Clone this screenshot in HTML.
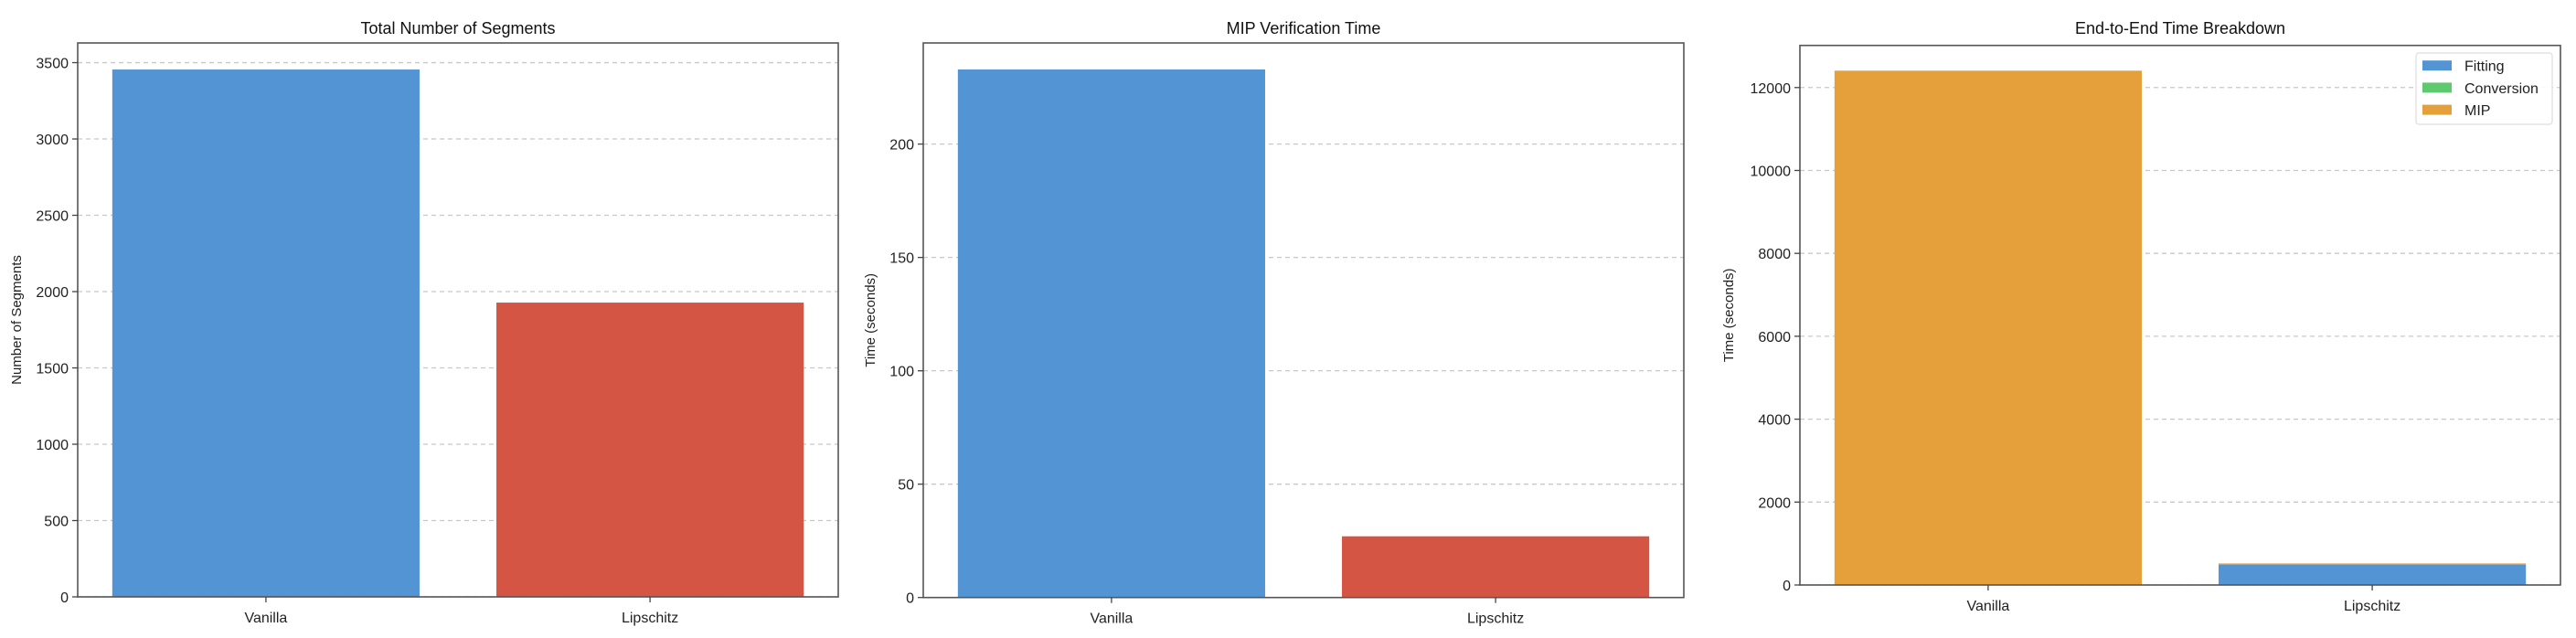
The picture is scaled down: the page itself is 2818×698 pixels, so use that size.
<!DOCTYPE html>
<html><head><meta charset="utf-8">
<style>
html,body{margin:0;padding:0;background:#fff;}
svg{display:block;font-family:"Liberation Sans","DejaVu Sans",sans-serif;}
</style></head>
<body>
<svg id="fig" width="2818" height="698" viewBox="0 0 2818 698" xmlns="http://www.w3.org/2000/svg"></svg>
<script>
const categories = ["Vanilla", "Lipschitz"];
const segmentCounts = [3455, 1928];
const mipTimes = [232.9, 27.0];
const fittingTimes = [5, 495];
const conversionTimes = [2, 5];
const mipStackTimes = [12400, 20];
const segTicks = [0, 500, 1000, 1500, 2000, 2500, 3000, 3500];
const mipTicks = [0, 50, 100, 150, 200];
const e2eTicks = [0, 2000, 4000, 6000, 8000, 10000, 12000];
const legendLabels = ["Fitting", "Conversion", "MIP"];

const NS = "http://www.w3.org/2000/svg";
const svg = document.getElementById("fig");
function mk(tag, attrs, parent) {
  const e = document.createElementNS(NS, tag);
  for (const k in attrs) e.setAttribute(k, attrs[k]);
  (parent || svg).appendChild(e);
  return e;
}
const COLORS = {blue: "#5294d4", red: "#d55545", green: "#5ec96e", orange: "#e5a03c"};

function drawPanel(cfg) {
  const g = mk("g", {});
  
  
  const L = cfg.left, R = cfg.right, T = cfg.top, B = cfg.bottom;
  const xmin = -0.49, xmax = 1.49;
  const xs = v => L + (v - xmin) / (xmax - xmin) * (R - L);
  const ys = v => B - v / cfg.ymax * (B - T);
  // grid
  cfg.ticks.forEach(t => {
    const y = ys(t);
    const gl = mk("line", {x1: L, x2: R, y1: y, y2: y, stroke: "#c8c8c8", "stroke-width": 1.3, "stroke-dasharray": "5,4"}, g);
    
    
  });
  // bars
  const bw = 0.8;
  categories.forEach((c, i) => {
    let base = 0;
    cfg.series.forEach(s => {
      const v = s.values[i];
      const y0 = ys(base), y1 = ys(base + v);
      const r = mk("rect", {x: xs(i - bw / 2), y: y1, width: xs(i + bw / 2) - xs(i - bw / 2), height: Math.max(0, y0 - y1), fill: s.colors ? s.colors[i] : s.color}, g);
      
      
      base += v;
    });
  });
  // frame
  const fr = mk("rect", {x: L, y: T, width: R - L, height: B - T, fill: "none", stroke: "#555", "stroke-width": 1.6}, g);
  
  
  // y ticks
  cfg.ticks.forEach(t => {
    const y = ys(t);
    const tk = mk("line", {x1: L - 6, x2: L, y1: y, y2: y, stroke: "#444", "stroke-width": 1.3}, g);
    
    
    const tx = mk("text", {x: L - 10, y: y + 6, "text-anchor": "end", "font-size": 16, fill: "#222"}, g);
    tx.textContent = t;
    
    
  });
  // x ticks
  categories.forEach((c, i) => {
    const x = xs(i);
    const tk = mk("line", {x1: x, x2: x, y1: B, y2: B + 6, stroke: "#444", "stroke-width": 1.3}, g);
    
    
    const tx = mk("text", {x: x, y: B + 28, "text-anchor": "middle", "font-size": 16, fill: "#222"}, g);
    tx.textContent = c;
    
    
  });
  const ti = mk("text", {x: (L + R) / 2, y: 37, "text-anchor": "middle", "font-size": 18, fill: "#111"}, g);
  ti.textContent = cfg.title;
  
  
  const yl = mk("text", {x: 0, y: 0, "text-anchor": "middle", "font-size": 15, fill: "#222", transform: "translate(" + cfg.ylabelX + "," + ((T + B) / 2) + ") rotate(-90)"}, g);
  yl.textContent = cfg.ylabel;
  
  
  return g;
}

drawPanel({name: "segments-chart", left: 85, right: 917, top: 47, bottom: 653, ymax: 3629, ticks: segTicks,
  title: "Total Number of Segments", ylabel: "Number of Segments", ylabelX: 23,
  series: [{key: "segments", values: segmentCounts, colors: [COLORS.blue, COLORS.red]}]});
drawPanel({name: "mip-time-chart", left: 1010, right: 1842, top: 47, bottom: 653.7, ymax: 244.6, ticks: mipTicks,
  title: "MIP Verification Time", ylabel: "Time (seconds)", ylabelX: 957,
  series: [{key: "mip", values: mipTimes, colors: [COLORS.blue, COLORS.red]}]});
drawPanel({name: "e2e-time-chart", left: 1969, right: 2801, top: 49.7, bottom: 640, ymax: 13016, ticks: e2eTicks,
  title: "End-to-End Time Breakdown", ylabel: "Time (seconds)", ylabelX: 1896,
  series: [{key: "fitting", values: fittingTimes, color: COLORS.blue},
           {key: "conversion", values: conversionTimes, color: COLORS.green},
           {key: "mip", values: mipStackTimes, color: COLORS.orange}]});

// legend
const lg = mk("g", {});


const lbox = mk("rect", {x: 2643, y: 58, width: 149, height: 78, rx: 3, fill: "#fff", "fill-opacity": 0.9, stroke: "#ddd", "stroke-width": 1.2}, lg);


const lcolors = [COLORS.blue, COLORS.green, COLORS.orange];
legendLabels.forEach((lab, i) => {
  const cy = 71.7 + i * 24.2;
  const p = mk("rect", {x: 2650, y: cy - 5.5, width: 32, height: 11, fill: lcolors[i]}, lg);
  
  
  const t = mk("text", {x: 2696, y: cy + 6, "font-size": 16, fill: "#222"}, lg);
  t.textContent = lab;
  
  
});
</script>
</body></html>
